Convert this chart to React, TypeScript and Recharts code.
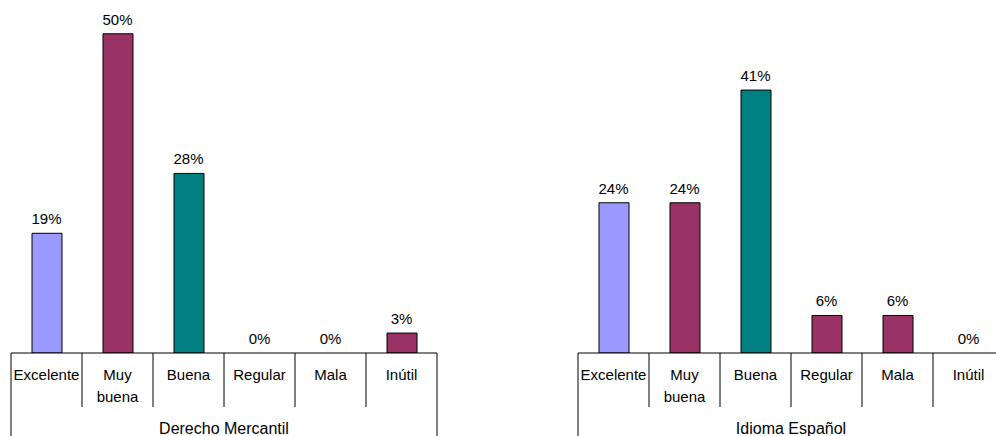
import React from "react";
import { ComposedChart, Bar, Line, XAxis, YAxis, Cell, Label } from "recharts";

const categories = ["Excelente", "Muy buena", "Buena", "Regular", "Mala", "Inútil"];
const mercantilValues = [18.75, 50, 28.125, 0, 0, 3.125];
const espanolValues = [23.53, 23.53, 41.18, 5.88, 5.88, 0];
const barColors = ["#9999FF", "#993366", "#008080", "#993366", "#993366", "#993366"];
const groupTitles = ["Derecho Mercantil", "Idioma Español"];

const FONT = "Arial, 'Liberation Sans', sans-serif";
const CHART_W = 450;
const CHART_H = 436;
const AXIS_H = 83;

const buildData = (vals: number[]) => categories.map((c, i) => ({ name: c, value: vals[i] }));

const makeTick = (plotWidth: number) => (props: any) => {
  const { x, y, payload, index } = props;
  const bw = plotWidth / categories.length;
  const left = x - bw / 2;
  const right = x + bw / 2;
  const words = String(payload.value).split(" ");
  return (
    <g>
      <line x1={left} y1={y} x2={left} y2={index === 0 ? y + AXIS_H : y + 54} stroke="#000" strokeWidth={1} />
      {index === categories.length - 1 && (
        <line x1={right} y1={y} x2={right} y2={y + AXIS_H} stroke="#000" strokeWidth={1} />
      )}
      {words.map((w, i) => (
        <text key={i} x={x} y={y + 27 + i * 22} textAnchor="middle" fontSize={15} fontFamily={FONT} fill="#000">
          {w}
        </text>
      ))}
    </g>
  );
};

const valueLabel = (props: any) => {
  const { x, y, value } = props;
  return (
    <text x={x} y={y - 9} textAnchor="middle" fontSize={15} fontFamily={FONT} fill="#000">
      {`${Math.round(Number(value))}%`}
    </text>
  );
};

const SubChart = ({ values, title, left, ml, mr }: { values: number[]; title: string; left: number; ml: number; mr: number }) => {
  const data = buildData(values);
  const plotWidth = CHART_W - ml - mr;
  return (
    <div style={{ position: "absolute", left, top: 0 }}>
      <ComposedChart width={CHART_W} height={CHART_H} data={data} margin={{ top: 21, right: mr, left: ml, bottom: 0 }} barCategoryGap={0}>
        <YAxis hide domain={[0, 52]} allowDataOverflow />
        <XAxis
          dataKey="name"
          height={AXIS_H}
          axisLine={{ stroke: "#000", strokeWidth: 1 }}
          tickLine={false}
          tickSize={0}
          tickMargin={0}
          interval={0}
          tick={makeTick(plotWidth)}
        >
          <Label value={title} position="insideBottom" offset={2} fontSize={16} fontFamily={FONT} fill="#000" />
        </XAxis>
        <Bar dataKey="value" barSize={30} stroke="#000" strokeWidth={1} isAnimationActive={false}>
          {data.map((d, i) => (
            <Cell key={d.name} fill={barColors[i]} />
          ))}
        </Bar>
        <Line dataKey="value" stroke="none" dot={false} activeDot={false} label={valueLabel} isAnimationActive={false} />
      </ComposedChart>
    </div>
  );
};

export default function App() {
  return (
    <div style={{ position: "absolute", left: 0, top: 0, width: 996, height: 436, overflow: "hidden", background: "#fff" }}>
      <SubChart values={mercantilValues} title={groupTitles[0]} left={0} ml={11} mr={13} />
      <SubChart values={espanolValues} title={groupTitles[1]} left={570} ml={8} mr={16} />
    </div>
  );
}
